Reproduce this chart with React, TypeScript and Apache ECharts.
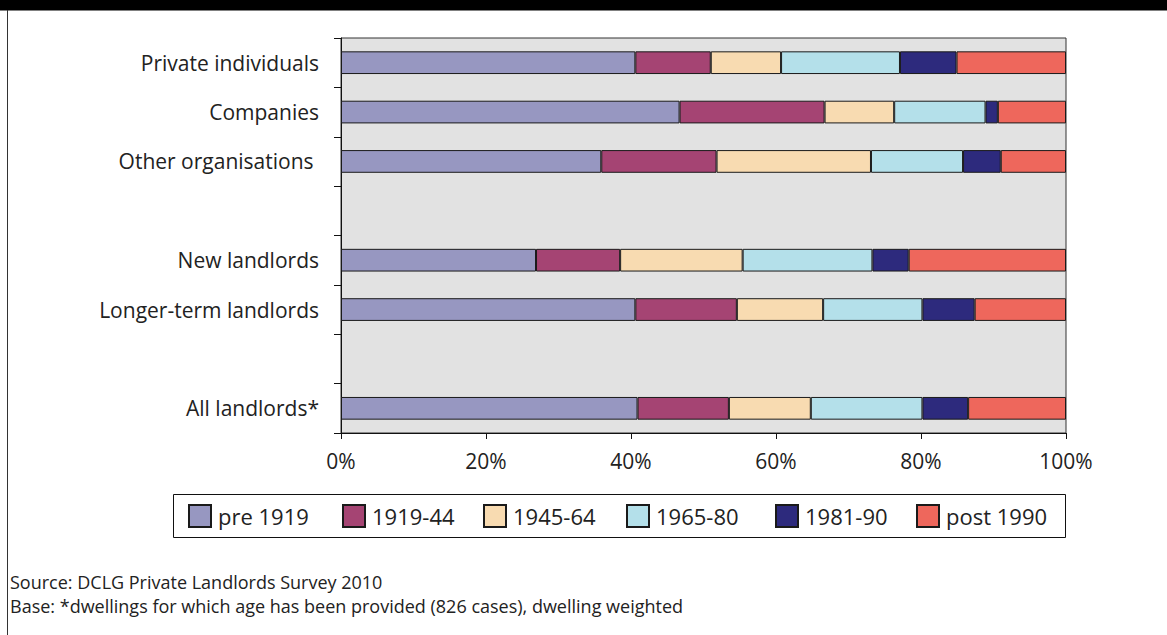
import React, { useEffect, useRef } from "react";
import * as echarts from "echarts";

const rows = [
  "Private individuals",
  "Companies",
  "Other organisations ",
  " ",
  "New landlords",
  "Longer-term landlords",
  "  ",
  "All landlords*",
];

const seriesNames = ["pre 1919", "1919-44", "1945-64", "1965-80", "1981-90", "post 1990"];
const seriesColors = ["#9797c1", "#a54473", "#f8dbb1", "#b4e0ea", "#2d2a7d", "#ee675c"];

const pre1919 = [40.6, 46.7, 35.9, null, 26.9, 40.6, null, 40.9];
const y1919_44 = [10.4, 20.0, 15.9, null, 11.6, 14.0, null, 12.6];
const y1945_64 = [9.7, 9.6, 21.3, null, 16.9, 11.9, null, 11.3];
const y1965_80 = [16.4, 12.6, 12.7, null, 17.9, 13.7, null, 15.4];
const y1981_90 = [7.8, 1.7, 5.2, null, 5.0, 7.2, null, 6.3];
const post1990 = [15.1, 9.4, 9.0, null, 21.7, 12.6, null, 13.5];

const seriesValues = [pre1919, y1919_44, y1945_64, y1965_80, y1981_90, post1990];

const xTicks = { min: 0, max: 100, interval: 20 };

const legendLefts = [188, 342, 483, 626, 775, 916];

const sourceText = "Source: DCLG Private Landlords Survey 2010";
const baseText = "Base: *dwellings for which age has been provided (826 cases), dwelling weighted";

const FONT = "'Open Sans', 'Noto Sans', sans-serif";

export default function App() {
  const ref = useRef<HTMLDivElement>(null);
  useEffect(() => {
    if (!ref.current) return;
    const chart = echarts.init(ref.current, null, { renderer: "svg" });
    chart.setOption({
      animation: false,
      backgroundColor: "#ffffff",
      textStyle: { fontFamily: FONT },
      grid: {
        left: 341,
        top: 38,
        width: 725,
        height: 395,
        show: true,
        backgroundColor: "#e2e2e2",
        borderColor: "#333333",
        borderWidth: 1,
      },
      xAxis: {
        type: "value",
        min: xTicks.min,
        max: xTicks.max,
        interval: xTicks.interval,
        axisLine: { show: true, lineStyle: { color: "#111", width: 1 } },
        axisTick: { show: true, length: 6, lineStyle: { color: "#111" } },
        splitLine: { show: false },
        axisLabel: {
          formatter: "{value}%",
          fontSize: 21,
          color: "#222",
          margin: 17,
          fontFamily: FONT,
        },
      },
      yAxis: {
        type: "category",
        inverse: true,
        data: rows,
        axisLine: { show: true, lineStyle: { color: "#111", width: 1 } },
        axisTick: { show: true, length: 7, lineStyle: { color: "#111" } },
        splitLine: { show: false },
        axisLabel: { fontSize: 21, color: "#222", margin: 22, fontFamily: FONT },
      },
      legend: seriesNames.map((name, i) => ({
        data: [name],
        left: legendLefts[i],
        top: 504,
        padding: 0,
        icon: "rect",
        itemWidth: 22,
        itemHeight: 22,
        textStyle: { fontSize: 22, color: "#222", fontFamily: FONT, padding: [0, 0, 0, 2] },
      })),
      series: seriesNames.map((name, i) => ({
        name,
        type: "bar",
        stack: "total",
        barWidth: "46%",
        data: seriesValues[i],
        itemStyle: { color: seriesColors[i], borderColor: "#1a1a1a", borderWidth: 1 },
      })),
      graphic: [
        { type: "rect", shape: { x: 0, y: 0, width: 1167, height: 10 }, style: { fill: "#000" } },
        { type: "rect", shape: { x: 0, y: 10, width: 1167, height: 1 }, style: { fill: "#808080" } },
        { type: "rect", shape: { x: 7, y: 10, width: 1, height: 625 }, style: { fill: "#333" } },
        {
          type: "rect",
          shape: { x: 173.5, y: 494.5, width: 892, height: 43 },
          style: { fill: "none", stroke: "#111", lineWidth: 1 },
        },
        {
          type: "text",
          x: 10,
          y: 582,
          style: { text: sourceText, fontSize: 18, fill: "#222", fontFamily: FONT, verticalAlign: "middle" },
        },
        {
          type: "text",
          x: 10,
          y: 606,
          style: { text: baseText, fontSize: 18, fill: "#222", fontFamily: FONT, verticalAlign: "middle" },
        },
      ],
    });
    return () => chart.dispose();
  }, []);
  return (
    <div
      ref={ref}
      style={{ position: "fixed", left: 0, top: 0, width: 1167, height: 635 }}
    />
  );
}
